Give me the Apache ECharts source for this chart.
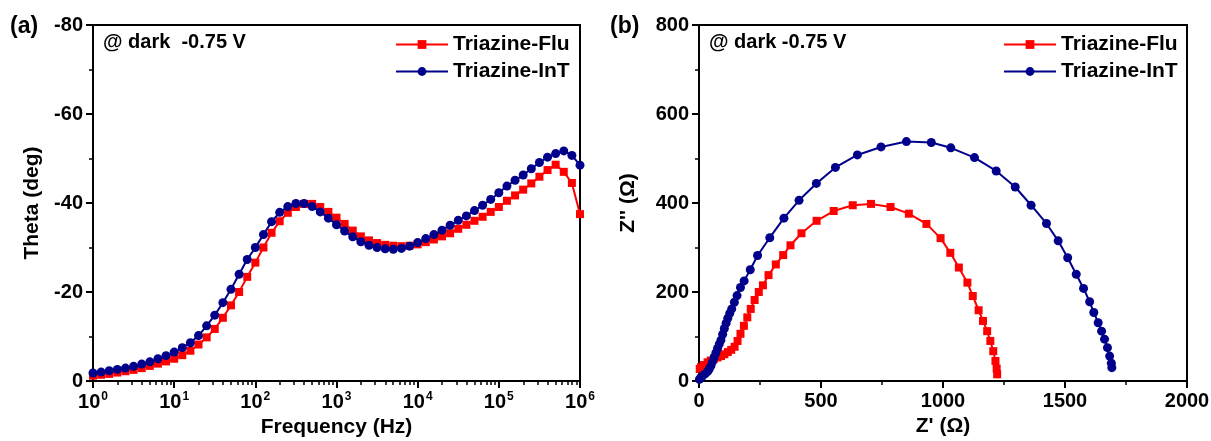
<!DOCTYPE html>
<html>
<head>
<meta charset="utf-8">
<script src="https://cdn.jsdelivr.net/npm/echarts@6/dist/echarts.min.js"></script>
<style>
html,body{margin:0;padding:0;background:#fff;}
#chart{width:1211px;height:441px;}
</style>
</head>
<body>
<div id="chart"></div>
<script>
// ---------- data ----------
// Panel (a): Bode phase plot, frequency in Hz
const freq = [1, 1.259, 1.585, 1.995, 2.512, 3.162, 3.981, 5.012, 6.310, 7.943,
  10, 12.59, 15.85, 19.95, 25.12, 31.62, 39.81, 50.12, 63.10, 79.43,
  100, 125.9, 158.5, 199.5, 251.2, 316.2, 398.1, 501.2, 631.0, 794.3,
  1000, 1259, 1585, 1995, 2512, 3162, 3981, 5012, 6310, 7943,
  10000, 12590, 15850, 19950, 25120, 31620, 39810, 50120, 63100, 79430,
  100000, 125900, 158500, 199500, 251200, 316200, 398100, 501200, 631000, 794300,
  1000000];
const thetaFlu = [-1.2, -1.4, -1.6, -1.9, -2.2, -2.5, -2.9, -3.4, -3.9, -4.4,
  -5.0, -5.8, -6.8, -8.2, -9.8, -11.7, -14.2, -17.0, -20.0, -23.4,
  -26.6, -30.0, -33.3, -35.9, -37.8, -39.1, -39.8, -39.8, -39.1, -38.0,
  -36.7, -35.3, -33.8, -32.5, -31.6, -31.0, -30.6, -30.4, -30.3, -30.4,
  -30.7, -31.2, -31.8, -32.5, -33.2, -34.2, -35.1, -36.0, -36.9, -38.0,
  -39.1, -40.5, -41.7, -43.0, -44.4, -45.9, -47.4, -48.6, -47.0, -44.5,
  -37.5];
const thetaInT = [-1.8, -2.0, -2.3, -2.6, -2.9, -3.3, -3.8, -4.3, -5.0, -5.7,
  -6.5, -7.5, -8.6, -10.2, -12.4, -14.8, -17.6, -20.6, -24.0, -27.3,
  -30.0, -32.9, -35.8, -37.9, -39.2, -39.9, -39.9, -39.2, -38.0, -36.6,
  -35.1, -33.7, -32.4, -31.3, -30.5, -30.0, -29.7, -29.6, -29.8, -30.3,
  -31.1, -32.0, -32.9, -33.9, -35.0, -36.1, -37.1, -38.3, -39.5, -40.8,
  -42.3, -43.8, -45.1, -46.3, -47.7, -49.1, -50.3, -51.1, -51.7, -50.7,
  -48.5];

// Panel (b): Nyquist plot [Z', Z''] in ohm
const nyqFlu = [[3,27],[8,31],[20,36],[35,42],[48,46],[62,50],[76,53],[90,56],[104,60],[118,65],
  [132,70],[146,77],[158,90],[170,106],[184,124],[198,143],[212,162],[228,182],[245,200],[262,215],
  [285,238],[315,262],[345,283],[375,305],[420,332],[482,360],[552,382],[630,395],[705,398],[785,391],
  [860,376],[932,353],[990,321],[1030,288],[1065,255],[1100,221],[1122,191],[1146,159],[1164,135],[1181,112],
  [1194,90],[1206,67],[1215,45],[1220,28],[1222,15]];
const nyqInT = [[2,4],[8,8],[14,11],[25,16],[35,21],[42,27],[49,34],[55,43],[62,53],[69,63],
  [76,73],[83,83],[90,92],[97,105],[104,118],[111,130],[118,141],[126,152],[134,162],[145,177],
  [156,192],[170,210],[185,225],[210,250],[240,282],[290,322],[348,366],[410,406],[481,444],[559,480],
  [649,508],[746,526],[850,538],[952,536],[1032,524],[1129,502],[1218,472],[1296,436],[1361,395],[1424,354],
  [1472,315],[1511,277],[1546,240],[1576,208],[1601,178],[1618,154],[1636,131],[1650,112],[1662,94],[1674,75],
  [1683,56],[1690,40],[1692,30]];

const seriesNames = ['Triazine-Flu', 'Triazine-InT'];
const logMajorTicks = [1, 10, 100, 1000, 10000, 100000, 1000000];
const thetaTicks = [-80, -60, -40, -20, 0];
const annotation = '@ dark  -0.75 V';
const annotationB = '@ dark -0.75 V';

// minor ticks of the log axis (2..9 in each decade)
const logMinorTicks = [];
for (let d = 0; d < 6; d++) for (let m = 2; m <= 9; m++) logMinorTicks.push(m * Math.pow(10, d));

const RED = '#ff0000', BLUE = '#00008b';
const FONT = '"Liberation Sans", Arial, sans-serif';

const chart = echarts.init(document.getElementById('chart'), null, {renderer: 'canvas'});

const axisLineStyle = {show: true, onZero: false, lineStyle: {color: '#000', width: 2}};
const tickStyle = {show: true, inside: false, length: 7, lineStyle: {color: '#000', width: 2}};
const minorTickStyle = {show: true, splitNumber: 2, length: 4, lineStyle: {color: '#000', width: 1.5}};
const labelStyle = {color: '#000', fontFamily: FONT, fontWeight: 'bold', fontSize: 20};
const nameStyle = {color: '#000', fontFamily: FONT, fontWeight: 'bold', fontSize: 21};
const plainNum = function (v) { return String(v); };

const option = {
  backgroundColor: '#fff',
  animation: false,
  grid: [
    {left: 93, top: 25, width: 487, height: 356, show: true, borderColor: '#000', borderWidth: 2, outerBoundsMode: 'none', containLabel: false},
    {left: 699, top: 25, width: 488, height: 356, show: true, borderColor: '#000', borderWidth: 2, outerBoundsMode: 'none', containLabel: false}
  ],
  xAxis: [
    {
      type: 'log', gridIndex: 0, logBase: 10, min: 1, max: 1000000,
      name: 'Frequency (Hz)', nameLocation: 'middle', nameGap: 33, nameTextStyle: nameStyle,
      axisLine: axisLineStyle,
      axisTick: Object.assign({}, tickStyle, {customValues: logMajorTicks}),
      splitLine: {show: false},
      axisLabel: Object.assign({}, labelStyle, {
        margin: 10,
        customValues: logMajorTicks,
        formatter: function (v) { return '{a|10}{b|' + Math.round(Math.log10(v)) + '}'; },
        rich: {
          a: {fontFamily: FONT, fontWeight: 'bold', fontSize: 20, color: '#000'},
          b: {fontFamily: FONT, fontWeight: 'bold', fontSize: 12, color: '#000', verticalAlign: 'top', padding: [0, 0, 10, 1]}
        }
      })
    },
    {
      type: 'log', gridIndex: 0, logBase: 10, min: 1, max: 1000000, position: 'bottom',
      axisLine: {show: false},
      axisTick: {show: true, inside: false, length: 4, customValues: logMinorTicks, lineStyle: {color: '#000', width: 1.5}},
      axisLabel: {show: false},
      splitLine: {show: false}
    },
    {
      type: 'value', gridIndex: 1, min: 0, max: 2000, interval: 500,
      name: "Z' (\u03A9)", nameLocation: 'middle', nameGap: 33, nameTextStyle: nameStyle,
      axisLine: axisLineStyle, axisTick: tickStyle, minorTick: minorTickStyle,
      splitLine: {show: false}, minorSplitLine: {show: false},
      axisLabel: Object.assign({}, labelStyle, {margin: 10, formatter: plainNum})
    }
  ],
  yAxis: [
    {
      type: 'value', gridIndex: 0, inverse: true, min: -80, max: 0, interval: 20,
      name: 'Theta (deg)', nameLocation: 'middle', nameGap: 50, nameMoveOverlap: false, nameTextStyle: nameStyle,
      axisLine: axisLineStyle, axisTick: tickStyle, minorTick: minorTickStyle,
      splitLine: {show: false}, minorSplitLine: {show: false},
      axisLabel: Object.assign({}, labelStyle, {margin: 10, customValues: thetaTicks, formatter: plainNum})
    },
    {
      type: 'value', gridIndex: 1, min: 0, max: 800, interval: 200,
      name: "Z'' (\u03A9)", nameLocation: 'middle', nameGap: 60, nameMoveOverlap: false, nameTextStyle: nameStyle,
      axisLine: axisLineStyle, axisTick: tickStyle, minorTick: minorTickStyle,
      splitLine: {show: false}, minorSplitLine: {show: false},
      axisLabel: Object.assign({}, labelStyle, {margin: 10, formatter: plainNum})
    }
  ],
  legend: [
    {
      left: 390, top: 29, orient: 'vertical', itemWidth: 52, itemHeight: 11, itemGap: 6,
      data: seriesNames,
      textStyle: {color: '#000', fontFamily: FONT, fontWeight: 'bold', fontSize: 21, lineHeight: 21, padding: [0, 0, 0, 0]}
    },
    {
      left: 998, top: 29, orient: 'vertical', itemWidth: 52, itemHeight: 11, itemGap: 6,
      data: seriesNames,
      textStyle: {color: '#000', fontFamily: FONT, fontWeight: 'bold', fontSize: 21, lineHeight: 21, padding: [0, 0, 0, 0]}
    }
  ],
  graphic: [
    {type: 'text', left: 10, top: 15, style: {text: '(a)', fill: '#000', font: 'bold 23px ' + FONT}},
    {type: 'text', left: 610, top: 15, style: {text: '(b)', fill: '#000', font: 'bold 23px ' + FONT}},
    {type: 'text', left: 103, top: 32, style: {text: annotation, fill: '#000', font: 'bold 20px ' + FONT}},
    {type: 'text', left: 709, top: 32, style: {text: annotationB, fill: '#000', font: 'bold 20px ' + FONT}}
  ],
  series: [
    {
      name: seriesNames[0], type: 'line', xAxisIndex: 0, yAxisIndex: 0,
      data: freq.map((f, i) => [f, thetaFlu[i]]),
      symbol: 'rect', symbolSize: 8, color: RED,
      lineStyle: {color: RED, width: 2}, itemStyle: {color: RED}, z: 3
    },
    {
      name: seriesNames[1], type: 'line', xAxisIndex: 0, yAxisIndex: 0,
      data: freq.map((f, i) => [f, thetaInT[i]]),
      symbol: 'circle', symbolSize: 9, color: BLUE,
      lineStyle: {color: BLUE, width: 2}, itemStyle: {color: BLUE}, z: 4
    },
    {
      name: seriesNames[0], type: 'line', xAxisIndex: 2, yAxisIndex: 1,
      data: nyqFlu,
      symbol: 'rect', symbolSize: 8, color: RED,
      lineStyle: {color: RED, width: 2}, itemStyle: {color: RED}, z: 3
    },
    {
      name: seriesNames[1], type: 'line', xAxisIndex: 2, yAxisIndex: 1,
      data: nyqInT,
      symbol: 'circle', symbolSize: 9, color: BLUE,
      lineStyle: {color: BLUE, width: 2}, itemStyle: {color: BLUE}, z: 4
    }
  ]
};
chart.setOption(option);
</script>
</body>
</html>
